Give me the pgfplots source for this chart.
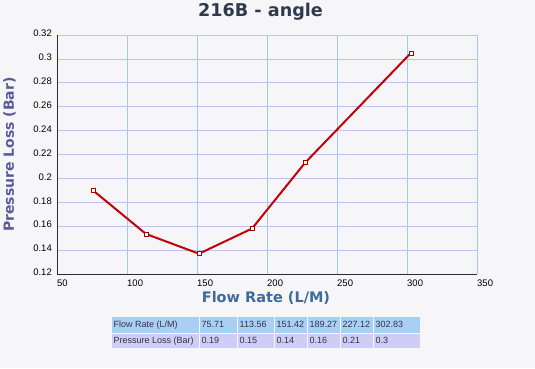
\documentclass[border=0pt]{standalone}
\usepackage{fontspec}
\setmainfont{Liberation Sans}
\newfontfamily\dvs{DejaVu Sans}
\usepackage{pgfplots}
\pgfplotsset{compat=1.18}
\usepackage{pgfplotstable}

\definecolor{bgcol}{HTML}{F6F6F8}
\definecolor{titlecol}{HTML}{2F3A4F}
\definecolor{ylabcol}{HTML}{5B5B9B}
\definecolor{xlabcol}{HTML}{3E6B9B}
\definecolor{xgridcol}{HTML}{A6C6EA}
\definecolor{ygridcol}{HTML}{BEC4E4}
\definecolor{axiscol}{HTML}{2B2B3B}
\definecolor{linecol}{HTML}{C00008}
\definecolor{markcol}{HTML}{A00000}
\definecolor{rowone}{HTML}{AACFF4}
\definecolor{rowtwo}{HTML}{CDCDF6}
\definecolor{tabtext}{HTML}{333344}

\pgfplotstableread{
x y
75.71 0.19
113.56 0.1535
151.42 0.137
189.27 0.158
227.12 0.213
302.83 0.305
}\datatable

\begin{document}
\begin{tikzpicture}[x=1pt,y=1pt]
\useasboundingbox (0,0) rectangle (535,368);
\fill[bgcol] (0,0) rectangle (535,368);
\begin{axis}[
  at={(57pt,94pt)}, anchor=south west,
  scale only axis, width=420pt, height=239pt,
  xmin=50, xmax=350, ymin=0.12, ymax=0.32,
  xtick={50,100,150,200,250,300,350},
  xticklabels={50,100,150,200,250,300,350},
  ytick={0.12,0.14,0.16,0.18,0.2,0.22,0.24,0.26,0.28,0.3,0.32},
  yticklabels={0.12,0.14,0.16,0.18,0.2,0.22,0.24,0.26,0.28,0.3,0.32},
  major tick length=0pt,
  axis x line*=bottom, axis y line*=left,
  axis line style={draw=axiscol, line width=0.9pt, -},
  xmajorgrids, ymajorgrids,
  major x grid style={draw=xgridcol, line width=0.8pt},
  major y grid style={draw=ygridcol, line width=0.8pt},
  xticklabel style={font=\fontsize{9.5}{10}\selectfont, text=black, anchor=west, inner xsep=0pt, yshift=-9.5pt},
  yticklabel style={font=\fontsize{9.5}{10}\selectfont, text=black, anchor=east, inner xsep=0pt, xshift=-5pt, yshift=1.5pt},
  clip=false,
]
\addplot[color=linecol, line width=2pt, mark=square*,
  mark options={fill=white, draw=markcol, line width=0.8pt, mark size=2pt, solid}]
  table[x=x, y=y] {\datatable};
\end{axis}
% title and axis labels
\node[font=\dvs\bfseries\fontsize{17.6}{20}\selectfont, text=titlecol] at (260.5,356.5) {216B - angle};
\node[font=\dvs\bfseries\fontsize{14}{16}\selectfont, text=ylabcol, rotate=90] at (9.5,213.5) {Pressure Loss (Bar)};
\node[font=\dvs\bfseries\fontsize{14.5}{16}\selectfont, text=xlabcol] at (266,70.5) {Flow Rate (L/M)};
% data table
\def\ra{35.5}\def\rb{51}\def\rc{20}\def\rd{34.5}
\foreach \xl/\xr/\ta/\tb in {111/199/{Flow Rate (L/M)}/{Pressure Loss (Bar)},199/237/75.71/0.19,237/274/113.56/0.15,274/307/151.42/0.14,307/340/189.27/0.16,340/373/227.12/0.21,373/420/302.83/0.3}{
  \fill[rowone] (\xl+0.5,\ra) rectangle (\xr-0.5,\rb);
  \fill[rowtwo] (\xl+0.5,\rc) rectangle (\xr-0.5,\rd);
  \node[anchor=west, inner sep=0pt, font=\fontsize{9}{10}\selectfont, text=tabtext] at (\xl+2.5,{(\ra+\rb)/2}) {\ta};
  \node[anchor=west, inner sep=0pt, font=\fontsize{9}{10}\selectfont, text=tabtext] at (\xl+2.5,{(\rc+\rd)/2}) {\tb};
}
\end{tikzpicture}
\end{document}
